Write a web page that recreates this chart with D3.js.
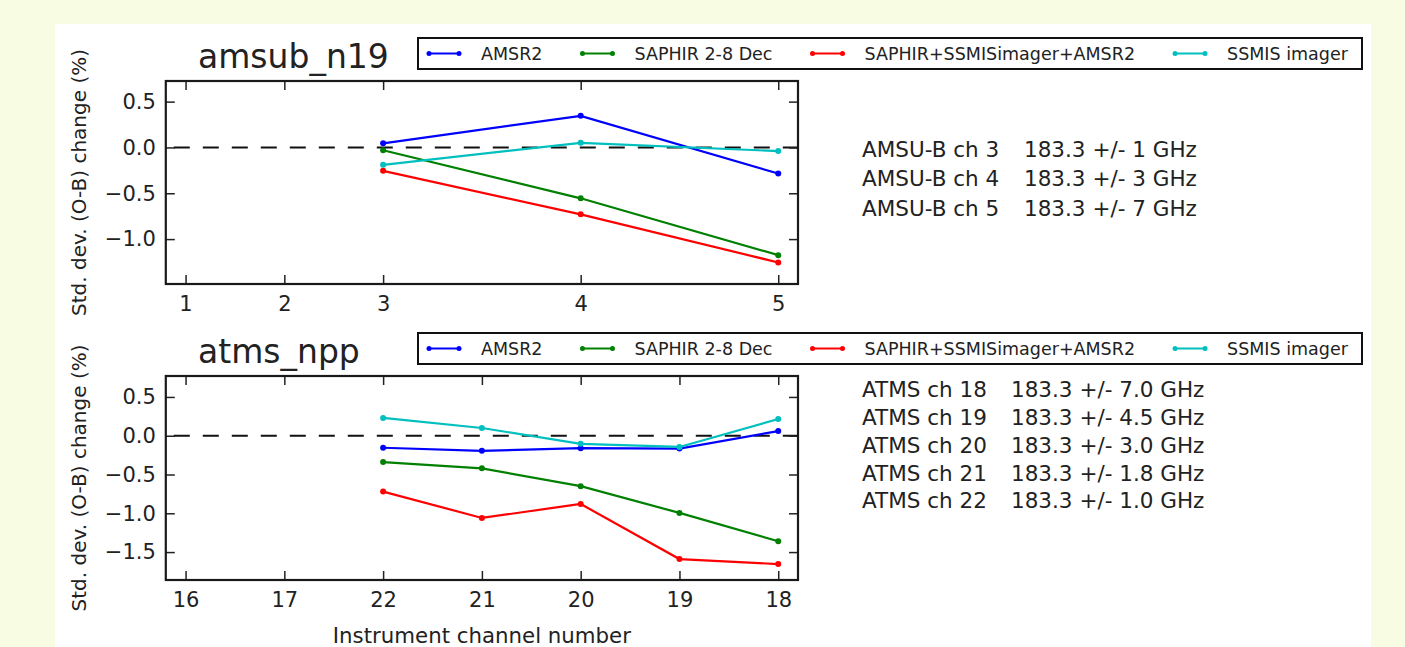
<!DOCTYPE html>
<html>
<head>
<meta charset="utf-8">
<script src="https://cdn.jsdelivr.net/npm/d3@7"></script>
<style>
  html, body { margin: 0; padding: 0; background: #f7fce3; }
  svg { display: block; }
  text { font-family: "DejaVu Sans", Verdana, sans-serif; fill: #222; }
</style>
</head>
<body>
<svg id="chart" width="1405" height="647"></svg>
<script>
// series shared by both panels
var seriesNames = ["AMSR2", "SAPHIR 2-8 Dec", "SAPHIR+SSMISimager+AMSR2", "SSMIS imager"];
var seriesColors = ["#0000ff", "#008000", "#ff0000", "#00bfbf"];

// amsub_n19 : channels 3,4,5 (plotted at slots 2,4,6)
var amsubSlots = [2, 4, 6];
var amsubTickSlots = [0, 1, 2, 4, 6];
var amsubTickLabels = ["1", "2", "3", "4", "5"];
var amsubYTicks = [0.5, 0, -0.5, -1];
var amsubYLim = [-1.49, 0.725];
var amsubAMSR2 = [0.045, 0.345, -0.285];
var amsubSAPHIR = [-0.03, -0.555, -1.175];
var amsubCombined = [-0.255, -0.73, -1.255];
var amsubSSMIS = [-0.19, 0.05, -0.04];
var amsubNotes = ["AMSU-B ch 3", "AMSU-B ch 4", "AMSU-B ch 5"];
var amsubFreqs = ["183.3 +/- 1 GHz", "183.3 +/- 3 GHz", "183.3 +/- 7 GHz"];

// atms_npp : channels 22..18 (plotted at slots 2..6)
var atmsSlots = [2, 3, 4, 5, 6];
var atmsTickSlots = [0, 1, 2, 3, 4, 5, 6];
var atmsTickLabels = ["16", "17", "22", "21", "20", "19", "18"];
var atmsYTicks = [0.5, 0, -0.5, -1, -1.5];
var atmsYLim = [-1.86, 0.77];
var atmsAMSR2 = [-0.155, -0.195, -0.16, -0.165, 0.06];
var atmsSAPHIR = [-0.34, -0.42, -0.65, -0.995, -1.36];
var atmsCombined = [-0.72, -1.06, -0.88, -1.59, -1.655];
var atmsSSMIS = [0.23, 0.1, -0.105, -0.145, 0.215];
var atmsNotes = ["ATMS ch 18", "ATMS ch 19", "ATMS ch 20", "ATMS ch 21", "ATMS ch 22"];
var atmsFreqs = ["183.3 +/- 7.0 GHz", "183.3 +/- 4.5 GHz", "183.3 +/- 3.0 GHz", "183.3 +/- 1.8 GHz", "183.3 +/- 1.0 GHz"];

var panels = [
    { title: "amsub_n19", top: 81, bottom: 284, legendY: 38, noteY: 156.5, noteStep: 29.8, freqX: 1024,
      slots: amsubSlots, tickSlots: amsubTickSlots, tickLabels: amsubTickLabels,
      yTicks: amsubYTicks, yLim: amsubYLim,
      series: [amsubAMSR2, amsubSAPHIR, amsubCombined, amsubSSMIS],
      notes: amsubNotes, freqs: amsubFreqs },
    { title: "atms_npp", top: 376, bottom: 580, legendY: 333, noteY: 397.3, noteStep: 27.75, freqX: 1011,
      slots: atmsSlots, tickSlots: atmsTickSlots, tickLabels: atmsTickLabels,
      yTicks: atmsYTicks, yLim: atmsYLim,
      series: [atmsAMSR2, atmsSAPHIR, atmsCombined, atmsSSMIS],
      notes: atmsNotes, freqs: atmsFreqs }
];

var svg = d3.select("#chart");

// white figure area
svg.append("rect")
    .attr("x", 55).attr("y", 24)
    .attr("width", 1316).attr("height", 630)
    .attr("fill", "#fff");

var x = d3.scaleLinear().domain([-0.2, 6.2]).range([165.8, 798]);
var plotLeft = 165.8, plotRight = 798;
var tick = 9;

panels.forEach(function (p) {
    var y = d3.scaleLinear().domain(p.yLim).range([p.bottom, p.top]);
    var g = svg.append("g");

    // zero reference line
    g.append("line")
        .attr("x1", plotLeft).attr("x2", plotRight)
        .attr("y1", y(0)).attr("y2", y(0))
        .attr("stroke", "#111")
        .attr("stroke-width", 2)
        .attr("stroke-dasharray", "16,13")
        .attr("stroke-dashoffset", -8);

    // series
    var line = d3.line()
        .x(function (d) { return x(d[0]); })
        .y(function (d) { return y(d[1]); });

    p.series.forEach(function (vals, i) {
        var pts = vals.map(function (v, j) { return [p.slots[j], v]; });
        g.append("path")
            .datum(pts)
            .attr("d", line)
            .attr("fill", "none")
            .attr("stroke", seriesColors[i])
            .attr("stroke-width", 2.2);
        g.selectAll(null)
            .data(pts)
            .enter().append("circle")
            .attr("cx", function (d) { return x(d[0]); })
            .attr("cy", function (d) { return y(d[1]); })
            .attr("r", 3)
            .attr("fill", seriesColors[i]);
    });

    // axes, ticks pointing inward
    var fmtX = function (d) { return p.tickLabels[p.tickSlots.indexOf(d)]; };
    var xb = g.append("g")
        .attr("transform", "translate(0," + p.bottom + ")")
        .call(d3.axisBottom(x).tickValues(p.tickSlots).tickFormat(fmtX).tickSize(-tick).tickPadding(12));
    var xt = g.append("g")
        .attr("transform", "translate(0," + p.top + ")")
        .call(d3.axisTop(x).tickValues(p.tickSlots).tickFormat("").tickSize(-tick));
    var yl = g.append("g")
        .attr("transform", "translate(" + plotLeft + ",0)")
        .call(d3.axisLeft(y).tickValues(p.yTicks).tickFormat(d3.format(".1f")).tickSize(-tick).tickPadding(10));
    var yr = g.append("g")
        .attr("transform", "translate(" + plotRight + ",0)")
        .call(d3.axisRight(y).tickValues(p.yTicks).tickFormat("").tickSize(-tick));

    [xb, xt, yl, yr].forEach(function (a) {
        a.select(".domain").remove();
        a.selectAll(".tick line").attr("stroke", "#222").attr("stroke-width", 1.5);
        a.selectAll(".tick text")
            .attr("font-family", "DejaVu Sans, Verdana, sans-serif")
            .attr("font-size", 21)
            .attr("fill", "#222");
    });

    // frame
    g.append("rect")
        .attr("x", plotLeft).attr("y", p.top)
        .attr("width", plotRight - plotLeft).attr("height", p.bottom - p.top)
        .attr("fill", "none")
        .attr("stroke", "#1a1a1a")
        .attr("stroke-width", 2.2);

    // title
    svg.append("text")
        .attr("x", 198).attr("y", p.top - 13.5)
        .attr("font-size", 33)
        .text(p.title);

    // y label
    svg.append("text")
        .attr("transform", "translate(86," + ((p.top + p.bottom) / 2) + ") rotate(-90)")
        .attr("text-anchor", "middle")
        .attr("font-size", 20)
        .text("Std. dev. (O-B) change (%)");

    // legend
    var lg = svg.append("g");
    lg.append("rect")
        .attr("x", 418).attr("y", p.legendY)
        .attr("width", 944).attr("height", 31)
        .attr("fill", "#fff")
        .attr("stroke", "#111")
        .attr("stroke-width", 2);
    var cx = 429, cy = p.legendY + 15.5;
    seriesNames.forEach(function (name, i) {
        lg.append("line")
            .attr("x1", cx).attr("x2", cx + 30)
            .attr("y1", cy).attr("y2", cy)
            .attr("stroke", seriesColors[i]).attr("stroke-width", 2);
        [cx, cx + 30].forEach(function (mx) {
            lg.append("circle").attr("cx", mx).attr("cy", cy).attr("r", 2.5).attr("fill", seriesColors[i]);
        });
        var t = lg.append("text")
            .attr("x", cx + 52).attr("y", cy + 6)
            .attr("font-size", 17.5)
            .text(name);
        cx = cx + 52 + t.node().getComputedTextLength() + 40;
    });

    // channel notes
    p.notes.forEach(function (n, i) {
        svg.append("text")
            .attr("x", 862).attr("y", p.noteY + i * p.noteStep)
            .attr("font-size", 21.5)
            .text(n);
        svg.append("text")
            .attr("x", p.freqX).attr("y", p.noteY + i * p.noteStep)
            .attr("font-size", 21.5)
            .text(p.freqs[i]);
    });
});

// x label
svg.append("text")
    .attr("x", (plotLeft + plotRight) / 2).attr("y", 643)
    .attr("text-anchor", "middle")
    .attr("font-size", 21.3)
    .text("Instrument channel number");
</script>
</body>
</html>
